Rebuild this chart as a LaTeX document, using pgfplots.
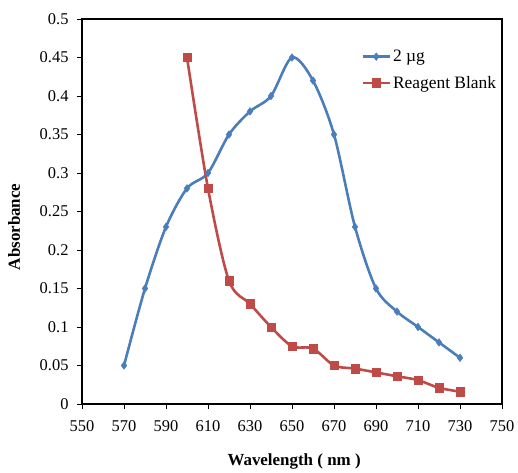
\documentclass[border=0pt]{standalone}
\usepackage{fontspec}
\setmainfont{Liberation Serif}
\usepackage{pgfplots}
\pgfplotsset{compat=1.18}
\definecolor{xlblue}{HTML}{4A7EBB}
\definecolor{xlred}{HTML}{BE4B48}
\begin{document}
\begin{tikzpicture}
\begin{axis}[
  scale only axis,
  width=420bp, height=385bp,
  xmin=550, xmax=750, ymin=0, ymax=0.5,
  xtick={550,570,...,750},
  ytick={0,0.05,...,0.5},
  yticklabels={0,0.05,0.1,0.15,0.2,0.25,0.3,0.35,0.4,0.45,0.5},
  /pgf/number format/assume math mode=true,
  tick label style={font=\fontsize{16.5}{18}\selectfont},
  yticklabel style={xshift=-5bp},
  xticklabel style={yshift=-8bp},
  tick align=outside,
  xtick pos=bottom, ytick pos=left,
  major tick length=5bp,
  axis line style={line width=1.1pt},
  every tick/.style={line width=0.8pt, black},
  xlabel={\textbf{Wavelength ( nm )}},
  ylabel={\textbf{Absorbance}},
  label style={font=\fontsize{17}{19}\selectfont},
  xlabel style={at={(axis description cs:0.505,-0.15)}, anchor=center},
  ylabel style={at={(axis description cs:-0.162,0.46)}, anchor=center},
  legend style={draw=none, fill=none, at={(0.665,0.93)}, anchor=north west,
    font=\fontsize{17.5}{19}\selectfont, row sep=9bp, inner xsep=0pt},
  legend cell align=left,
  legend image code/.code={
    \draw[#1] (0cm,0cm) -- (0.95cm,0cm);
    \draw[#1, mark repeat=2, mark phase=2] plot coordinates {(0cm,0cm) (0.475cm,0cm) (0.95cm,0cm)};
  },
]
\addplot[color=xlblue, line width=2.6pt, smooth, tension=0.5, mark=diamond*, mark size=3.8bp, mark options={solid, fill=xlblue, line width=0.5pt}]
coordinates {
(570,0.05) (580,0.15) (590,0.23) (600,0.28) (610,0.30) (620,0.35) (630,0.38) (640,0.40) (650,0.45) (660,0.42) (670,0.35) (680,0.23) (690,0.15) (700,0.12) (710,0.10) (720,0.08) (730,0.06)
};
\addlegendentry{2 µg}
\addplot[color=xlred, line width=2.6pt, smooth, tension=0.5, mark=square*, mark size=4.2bp, mark options={solid, fill=xlred, line width=0.5pt}]
coordinates {
(600,0.45) (610,0.28) (620,0.16) (630,0.13) (640,0.10) (650,0.075) (660,0.072) (670,0.05) (680,0.046) (690,0.041) (700,0.036) (710,0.031) (720,0.021) (730,0.016)
};
\addlegendentry{Reagent Blank}
\end{axis}
\path ([shift={(-82bp,-66bp)}]current axis.south west) rectangle ([shift={(16bp,19bp)}]current axis.north east);
\end{tikzpicture}
\end{document}
